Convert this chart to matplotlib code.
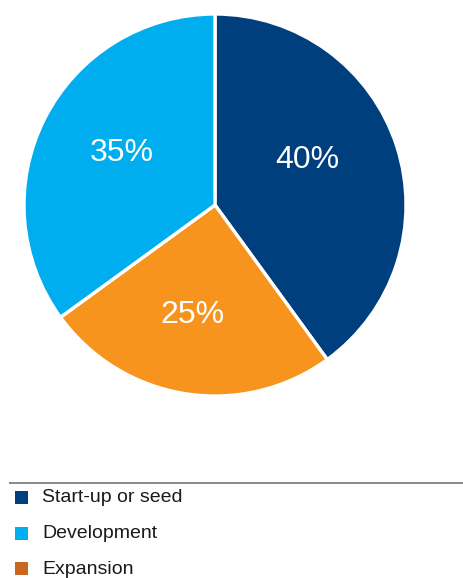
import matplotlib
matplotlib.use("Agg")
import matplotlib.pyplot as plt
from matplotlib.patches import Rectangle

plt.rcParams['font.family'] = ['Liberation Sans', 'DejaVu Sans']

categories = ["Start-up or seed", "Expansion", "Development"]
shares = [40, 25, 35]
pie_colors = ["#003F7D", "#F7941D", "#00AEEF"]

legend_labels = ["Start-up or seed", "Development", "Expansion"]
legend_colors = ["#003F7D", "#00AEEF", "#C8671F"]

W, H = 463, 578
fig = plt.figure(figsize=(W / 100, H / 100), dpi=100)
ax = fig.add_axes([0, 0, 1, 1])

cx, cy, r = 215, H - 205, 191
wedges, texts = ax.pie(
    shares, colors=pie_colors, startangle=90, counterclock=False,
    center=(cx, cy), radius=r, frame=True,
    wedgeprops=dict(edgecolor='white', linewidth=2.4),
)
ax.set_xlim(0, W)
ax.set_ylim(0, H)
ax.set_aspect('equal')
ax.axis('off')

# percentage labels placed inside each wedge
label_pos = [(307, 160), (192, 315), (122, 153)]
for val, (lx, ly) in zip(shares, label_pos):
    ax.text(lx, H - ly, f"{val}%", color='white', fontsize=23,
            ha='center', va='center')

# legend divider
ax.plot([9, W], [H - 483, H - 483], color='#808080', lw=1.3,
        solid_capstyle='butt')

ys = [497, 533, 568]
for lab, col, y in zip(legend_labels, legend_colors, ys):
    ax.add_patch(Rectangle((15, H - y - 6.5), 13, 13, color=col, lw=0))
    ax.text(42, H - y - 5.5, lab, fontsize=14, color='#1a1a1a',
            ha='left', va='baseline')

fig.savefig("out.png", dpi=100)
